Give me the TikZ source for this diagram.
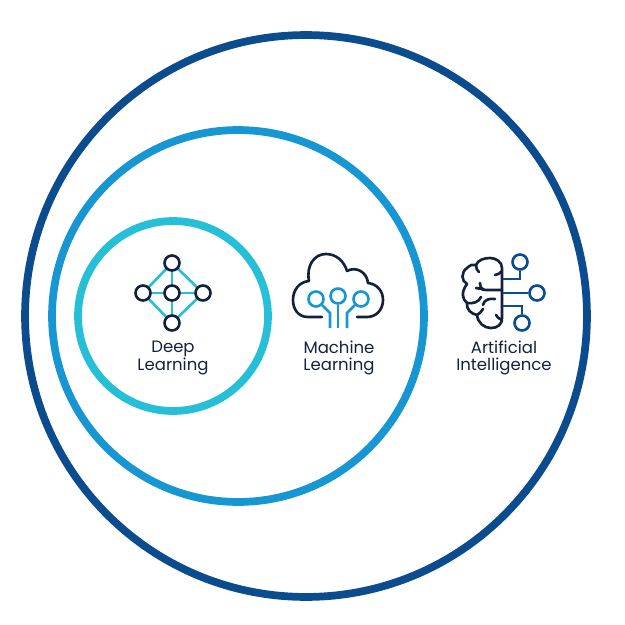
\documentclass[tikz,border=0pt]{standalone}
\usepackage{fontspec}
\setmainfont{Poppins}
\definecolor{outerblue}{HTML}{0B4C8E}
\definecolor{midblue}{HTML}{1696D2}
\definecolor{innerblue}{HTML}{26BFD8}
\definecolor{inkdark}{HTML}{14213D}
\tikzset{
  ring/.style={draw,circle,inner sep=0pt,line width=4.4pt},
  dot/.style={draw=inkdark,circle,fill=white,inner sep=0pt,minimum size=0.3cm,line width=1.5pt},
  bluedot/.style={dot,draw=#1},
  word/.style={font=\fontsize{9.4pt}{9.8pt}\selectfont,text=inkdark,align=center},
  ink/.style={draw=inkdark,line width=1.5pt,line cap=round,line join=round},
  wire/.style={line width=1.5pt}
}
\begin{document}
\begin{tikzpicture}[x=0.02cm,y=-0.02cm]
  \useasboundingbox (0,0) rectangle (625,625);
  \node[ring,draw=outerblue,minimum size=11.24cm] (ai) at (306,316) {};
  \node[ring,draw=midblue,minimum size=7.44cm] (ml) at (238,316) {};
  \node[ring,draw=innerblue,minimum size=3.8cm] (dl) at (173,316) {};
  % deep learning
  \coordinate (n0) at (172,263);
  \coordinate (n1) at (143,293);
  \coordinate (n2) at (172,293);
  \coordinate (n3) at (203,293);
  \coordinate (n4) at (172,323);
  \begin{scope}[wire,innerblue]
    \draw (n0) to (n1);
    \draw (n0) to (n3);
    \draw (n4) to (n1);
    \draw (n4) to (n3);
    \draw (n0) to (n4);
    \draw (n1) to (n3);
  \end{scope}
  \draw
    (n0) node[dot] (top){}
    (n1) node[dot] (left){}
    (n2) node[dot] (centre){}
    (n3) node[dot] (right){}
    (n4) node[dot] (bottom){};
  \node[word] (dltext) at (173,358) {Deep\\Learning};
  % machine learning
  \draw[ink] (322,317) -- (308,317)
    .. controls (298,317) and (293,309) .. (293,300)
    .. controls (293,290) and (299,282) .. (309,281)
    .. controls (306,266) and (314,254) .. (326,254)
    .. controls (336,254) and (344,261) .. (347,271)
    .. controls (356,266) and (367,272) .. (368,283)
    .. controls (377,284) and (383,291) .. (383,300)
    .. controls (383,310) and (376,317) .. (367,317)
    -- (357,317);
  \draw
    (316,299) node[bluedot=midblue] (mlleft){}
    (338,296) node[bluedot=midblue] (mlcentre){}
    (361,299) node[bluedot=midblue] (mlright){};
  \coordinate (mlleftend) at (330,328);
  \coordinate (mlcentreend) at (338,328);
  \coordinate (mlrightend) at (347,328);
  \draw[wire,midblue] (mlleft) -- (330,313) -- (mlleftend);
  \draw[wire,midblue] (mlcentre) -- (mlcentreend);
  \draw[wire,midblue] (mlright) -- (347,313) -- (mlrightend);
  \node[word] (mltext) at (339,358) {Machine\\Learning};
  % artificial intelligence
  \draw[ink] (502,268) -- (502,318)
    .. controls (502,325) and (497,328) .. (491,328)
    .. controls (484,328) and (478,323) .. (477,315)
    .. controls (471,314) and (466,309) .. (467,303)
    .. controls (462,299) and (461,292) .. (467,284)
    .. controls (461,281) and (461,272) .. (467,268)
    .. controls (470,265) and (473,264) .. (476,265)
    .. controls (478,260) and (484,258) .. (490,258)
    .. controls (496,258) and (502,262) .. (502,268);
  \draw[ink] (476,265) .. controls (476,268) and (477,271) .. (479,272);
  \draw[ink] (495,275) .. controls (498,275) and (500,273) .. (502,271);
  \draw[ink] (502,290) -- (486,290) .. controls (482,290) and (480,287) .. (480,283);
  \draw[ink] (484,290) .. controls (482,288) and (480,289) .. (476,288);
  \draw[ink] (467,303) .. controls (473,304) and (479,302) .. (481,297);
  \draw[ink] (483,305) .. controls (484,300) and (489,298) .. (495,299);
  \draw[ink] (477,315) .. controls (480,313) and (482,311) .. (483,309);
  \draw[ink] (502,320) .. controls (499,319) and (497,317) .. (496,315);
  \draw
    (520,262) node[bluedot=outerblue] (aitop){}
    (537,293) node[bluedot=outerblue] (aimid){}
    (522,323) node[bluedot=outerblue] (aibot){};
  \coordinate (aitopend) at (503,279);
  \coordinate (aimidend) at (503,293);
  \coordinate (aibotend) at (503,306);
  \draw[wire,outerblue] (aitopend) -- (520,279) -- (aitop);
  \draw[wire,outerblue] (aimidend) -- (aimid);
  \draw[wire,outerblue] (aibotend) -- (522,306) -- (aibot);
  \node[word] (aitext) at (504,358) {Artificial\\Intelligence};
\end{tikzpicture}
\end{document}
